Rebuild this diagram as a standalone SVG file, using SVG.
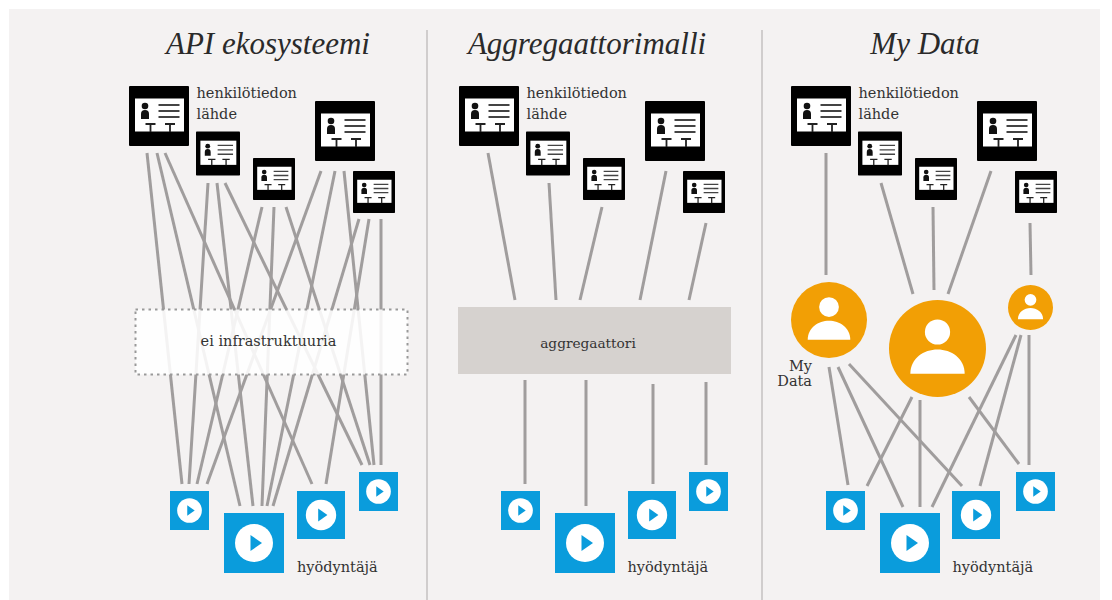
<svg xmlns="http://www.w3.org/2000/svg" width="1112" height="600" viewBox="0 0 1112 600">
<style>
.c line{stroke:#a09d9d;stroke-width:3;fill:none}
.t{font-family:"DejaVu Serif","Liberation Serif",serif;font-size:14.5px;fill:#333}
.h{font-family:"Liberation Serif","DejaVu Serif",serif;font-style:italic;font-size:31px;fill:#2a2a2a}
.d{stroke:#c4c1c1;stroke-width:1.500}
</style>
<defs>
<symbol id="src" viewBox="0 0 60 60">
<rect width="60" height="60" rx="1" fill="#000"/>
<rect x="6" y="12.500" width="49" height="33" fill="#fff"/>
<circle cx="16" cy="20" r="3.300" fill="#111"/>
<path d="M12 33V28Q12 24 16 24T20 28V33Z" fill="#111"/>
<path d="M29.500 19H50.500M29.500 25H50.500M29.500 31H50.500" stroke="#444" stroke-width="1.800"/>
<path d="M16.500 38H26.500M21.500 38V46M36 38H46M41 38V46" stroke="#222" stroke-width="1.800" fill="none"/>
</symbol>
<symbol id="use" viewBox="0 0 60 60">
<rect width="60" height="60" fill="#0a9cdc"/>
<circle cx="30" cy="30" r="19" fill="#fff"/>
<path d="M26.500 22L38 30L26.500 38Z" fill="#0a9cdc"/>
</symbol>
<symbol id="per" viewBox="0 0 100 100">
<circle cx="50" cy="50" r="50" fill="#f29f05"/>
<circle cx="50" cy="33" r="13" fill="#fff"/>
<path d="M22 76C22 60 36 51 50 51S78 60 78 76Z" fill="#fff"/>
</symbol>
</defs>
<rect width="1112" height="600" fill="#fff"/>
<rect x="9" y="9" width="1091" height="591" fill="#f4f2f2"/>
<line class="d" x1="427" y1="30" x2="427" y2="600"/>
<line class="d" x1="762" y1="30" x2="762" y2="600"/>
<text class="h" x="268" y="54" text-anchor="middle">API ekosysteemi</text>
<text class="h" x="587" y="54" text-anchor="middle">Aggregaattorimalli</text>
<text class="h" x="925" y="54" text-anchor="middle">My Data</text>
<g id="connectors" class="c">
<line x1="147" y1="153" x2="182" y2="484"/>
<line x1="157" y1="153" x2="240" y2="506"/>
<line x1="165" y1="153" x2="312" y2="484"/>
<line x1="208" y1="183" x2="189" y2="484"/>
<line x1="217" y1="183" x2="253" y2="506"/>
<line x1="225" y1="183" x2="362" y2="465"/>
<line x1="262" y1="207" x2="197" y2="484"/>
<line x1="274" y1="207" x2="262" y2="506"/>
<line x1="286" y1="207" x2="370" y2="465"/>
<line x1="321" y1="171" x2="207" y2="484"/>
<line x1="335" y1="171" x2="267" y2="506"/>
<line x1="344" y1="171" x2="374" y2="465"/>
<line x1="359" y1="219" x2="273" y2="506"/>
<line x1="369" y1="219" x2="326" y2="484"/>
<line x1="381" y1="219" x2="381" y2="465"/>
<line x1="488" y1="153" x2="515" y2="300"/>
<line x1="549" y1="183" x2="556" y2="300"/>
<line x1="602" y1="207" x2="580" y2="300"/>
<line x1="666" y1="171" x2="640" y2="300"/>
<line x1="706" y1="223" x2="689" y2="300"/>
<line x1="525" y1="380" x2="525" y2="484"/>
<line x1="586" y1="380" x2="586" y2="506"/>
<line x1="653" y1="384" x2="653" y2="484"/>
<line x1="706" y1="382" x2="706" y2="465"/>
<line x1="826" y1="153" x2="826" y2="275"/>
<line x1="881" y1="183" x2="913" y2="294"/>
<line x1="933" y1="207" x2="934" y2="290"/>
<line x1="991" y1="171" x2="948" y2="294"/>
<line x1="1030" y1="223" x2="1031" y2="275"/>
<line x1="829" y1="367" x2="848" y2="485"/>
<line x1="838" y1="367" x2="903" y2="507"/>
<line x1="849" y1="364" x2="962" y2="486"/>
<line x1="912" y1="397" x2="867" y2="486"/>
<line x1="920" y1="400" x2="920" y2="507"/>
<line x1="969" y1="397" x2="1019" y2="464"/>
<line x1="1016" y1="335" x2="932" y2="507"/>
<line x1="1021" y1="335" x2="980" y2="486"/>
<line x1="1029" y1="335" x2="1029" y2="465"/>
</g>
<g id="no-infra">
<rect x="135.500" y="309.500" width="272" height="65" fill="#fff" fill-opacity=".88" stroke="#999" stroke-width="2" stroke-dasharray="2.500 4"/>
<text class="t" x="268.500" y="346" text-anchor="middle">ei infrastruktuuria</text>
</g>
<g id="aggregator">
<rect x="458" y="307" width="273" height="67" fill="#d6d2cf"/>
<text class="t" x="588" y="348" text-anchor="middle" style="font-size:13.7px">aggregaattori</text>
</g>
<g id="a-s1"><use href="#src" x="129" y="86" width="60" height="60"/></g>
<g id="a-s2"><use href="#src" x="196" y="131" width="44" height="45"/></g>
<g id="a-s3"><use href="#src" x="253" y="158" width="42" height="42"/></g>
<g id="a-s4"><use href="#src" x="315" y="101" width="60" height="60"/></g>
<g id="a-s5"><use href="#src" x="353" y="171" width="42" height="42"/></g>
<g id="b-s1"><use href="#src" x="459" y="86" width="60" height="60"/></g>
<g id="b-s2"><use href="#src" x="526" y="131" width="44" height="45"/></g>
<g id="b-s3"><use href="#src" x="583" y="158" width="42" height="42"/></g>
<g id="b-s4"><use href="#src" x="645" y="101" width="60" height="60"/></g>
<g id="b-s5"><use href="#src" x="683" y="171" width="42" height="42"/></g>
<g id="c-s1"><use href="#src" x="791" y="86" width="60" height="60"/></g>
<g id="c-s2"><use href="#src" x="858" y="131" width="44" height="45"/></g>
<g id="c-s3"><use href="#src" x="915" y="158" width="42" height="42"/></g>
<g id="c-s4"><use href="#src" x="977" y="101" width="60" height="60"/></g>
<g id="c-s5"><use href="#src" x="1015" y="171" width="42" height="42"/></g>
<g id="a-u1"><use href="#use" x="170" y="491" width="39" height="39"/></g>
<g id="a-u2"><use href="#use" x="224" y="513" width="60" height="60"/></g>
<g id="a-u3"><use href="#use" x="297" y="491" width="48" height="48"/></g>
<g id="a-u4"><use href="#use" x="359" y="472" width="39" height="39"/></g>
<g id="b-u1"><use href="#use" x="501" y="491" width="39" height="39"/></g>
<g id="b-u2"><use href="#use" x="555" y="513" width="60" height="60"/></g>
<g id="b-u3"><use href="#use" x="628" y="491" width="48" height="48"/></g>
<g id="b-u4"><use href="#use" x="689" y="472" width="39" height="39"/></g>
<g id="c-u1"><use href="#use" x="826" y="491" width="39" height="39"/></g>
<g id="c-u2"><use href="#use" x="880" y="513" width="60" height="60"/></g>
<g id="c-u3"><use href="#use" x="952" y="491" width="48" height="48"/></g>
<g id="c-u4"><use href="#use" x="1016" y="472" width="39" height="39"/></g>
<g id="p1"><use href="#per" x="791" y="282" width="76" height="76"/></g>
<g id="p2"><use href="#per" x="889" y="300" width="97" height="97"/></g>
<g id="p3"><use href="#per" x="1008" y="285" width="45" height="45"/></g>
<text class="t" x="196.500" y="98">henkilötiedon</text>
<text class="t" x="196.500" y="119">lähde</text>
<text class="t" x="526.500" y="98">henkilötiedon</text>
<text class="t" x="526.500" y="119">lähde</text>
<text class="t" x="858.500" y="98">henkilötiedon</text>
<text class="t" x="858.500" y="119">lähde</text>
<text class="t" x="297" y="572">hyödyntäjä</text>
<text class="t" x="627.500" y="572">hyödyntäjä</text>
<text class="t" x="952.500" y="572">hyödyntäjä</text>
<text class="t" x="812" y="371" text-anchor="end">My</text>
<text class="t" x="812" y="386" text-anchor="end">Data</text>
</svg>
